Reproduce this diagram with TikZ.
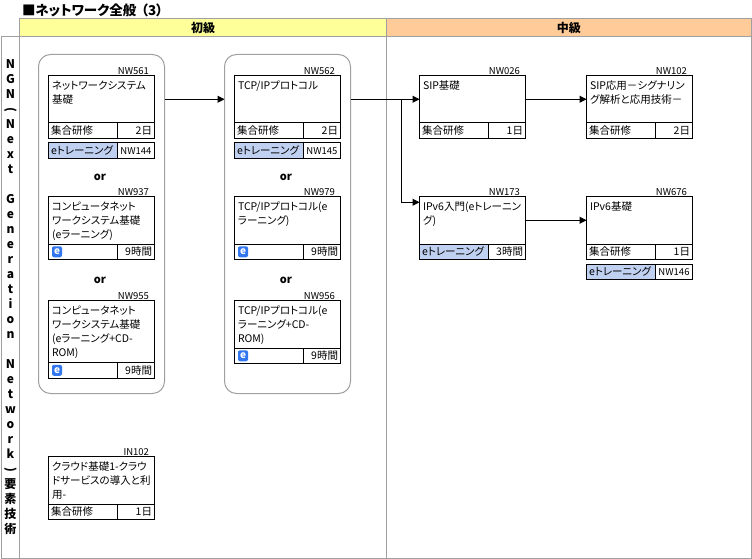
\documentclass[tikz,border=0pt]{standalone}
\usepackage{fontspec}
\setmainfont{Noto Sans CJK JP}[CharacterWidth=AlternateProportional]
\usepackage{xcolor}
\usetikzlibrary{arrows.meta, positioning}
\definecolor{gridgray}{RGB}{160,160,160}
\definecolor{beginnercolor}{RGB}{255,255,153}
\definecolor{middlecolor}{RGB}{255,204,153}
\definecolor{etraincolor}{RGB}{192,208,240}
\definecolor{eiconcolor}{RGB}{51,119,238}

\begin{document}
\begin{tikzpicture}[
    x=1pt, y=-1pt,
    every node/.style={outer sep=0pt},
    cell/.style={draw=gridgray, line width=1pt, anchor=north west, inner sep=0pt, font=\fontsize{12}{15}\selectfont\bfseries, align=center},
    crsgroup/.style={draw=gridgray, line width=1pt, rounded corners=12pt, anchor=north west, minimum width=126pt, minimum height=339pt},
    crsbox/.style={draw, line width=1pt, fill=white, anchor=north west, inner xsep=3.5pt, inner ysep=2pt, text width=99pt, text height=12pt, text depth=31.5pt, align=left, font=\fontsize{10.5}{14}\selectfont},
    crsfoot/.style={draw, line width=1pt, fill=white, anchor=north west, inner xsep=2.5pt, inner ysep=0pt, text width=64pt, text height=11.5pt, text depth=4pt, align=left, font=\fontsize{10.5}{14}\selectfont},
    crstime/.style={crsfoot, anchor=north east, text width=32pt, align=right},
    crscode/.style={anchor=south east, inner sep=0pt, text depth=0pt, xshift=-5.5pt, yshift=1pt, font=\fontsize{9.5}{10}\selectfont},
    etrain/.style={crsfoot, fill=etraincolor},
    etcode/.style={crsfoot, anchor=west, inner xsep=0.5pt, text width=36pt, align=center, font=\fontsize{9.5}{10}\selectfont},
    eicon/.style={fill=eiconcolor, text=white, rounded corners=2pt, anchor=west, inner sep=0pt, xshift=3.5pt, minimum width=10pt, minimum height=11pt, font=\fontsize{10}{10}\selectfont\bfseries},
    orword/.style={inner sep=0pt, font=\fontsize{11}{12}\selectfont\bfseries},
    flow/.style={-{Triangle[length=7pt, width=7pt]}, line width=1pt}
]
    \useasboundingbox (0,0) rectangle (752,559);

    % Title
    \node[anchor=west, inner sep=0pt, font=\fontsize{13.5}{14}\selectfont\bfseries] (pagetitle) at (22,10) {■ネットワーク全般\hspace{5pt}（3）};

    % Table cells
    \node[cell, fill=beginnercolor, minimum width=367pt, minimum height=18pt] (headbasic) at (19.5,18.5) {初級};
    \node[cell, fill=middlecolor, minimum width=364.5pt, minimum height=18pt] (headmiddle) at (386.5,18.5) {中級};
    \node[cell, minimum width=18pt, minimum height=521.5pt] (ngncell) at (1.5,36.5) {N\\G\\N\\\rotatebox[origin=c]{-90}{(}\\N\\e\\x\\t\\~\\G\\e\\n\\e\\r\\a\\t\\i\\o\\n\\~\\N\\e\\t\\w\\o\\r\\k\\\rotatebox[origin=c]{-90}{)}\\要\\素\\技\\術};
    \node[cell, minimum width=367pt, minimum height=521.5pt] (bodybasic) at (19.5,36.5) {};
    \node[cell, minimum width=364.5pt, minimum height=521.5pt] (bodymiddle) at (386.5,36.5) {};

    % Alternative groups
    \node[crsgroup] (groupnet) at (38.5,54.5) {};
    \node[crsgroup] (grouptcp) at (224.5,54.5) {};

    % Network system courses
    \node[crsbox] (nw561) at (48.5,75.5) {ネットワークシステム\\基礎};
    \node[crscode] (code561) at (nw561.north east) {NW561};
    \node[crsfoot] (foot561) at (nw561.south west) {集合研修};
    \node[crstime] (time561) at (nw561.south east) {2日};
    \node[etrain] (et561) at ([yshift=-4.5pt]foot561.south west) {eトレーニング};
    \node[etcode] (etc561) at (et561.east) {NW144};
    \node[orword] (ornet1) at (100,177) {or};

    \node[crsbox] (nw937) at (48.5,196.5) {コンピュータネット\\ワークシステム基礎\\(eラーニング)};
    \node[crscode] (code937) at (nw937.north east) {NW937};
    \node[crsfoot] (foot937) at (nw937.south west) {};
    \node[eicon] (icon937) at (foot937.west) {e};
    \node[crstime] (time937) at (nw937.south east) {9時間};
    \node[orword] (ornet2) at (100,280) {or};

    \node[crsbox, text depth=46pt] (nw955) at (48.5,300.5) {コンピュータネット\\ワークシステム基礎\\(eラーニング+CD-\\ROM)};
    \node[crscode] (code955) at (nw955.north east) {NW955};
    \node[crsfoot] (foot955) at (nw955.south west) {};
    \node[eicon] (icon955) at (foot955.west) {e};
    \node[crstime] (time955) at (nw955.south east) {9時間};

    % TCP/IP courses
    \node[crsbox] (nw562) at (234.5,75.5) {TCP/IPプロトコル};
    \node[crscode] (code562) at (nw562.north east) {NW562};
    \node[crsfoot] (foot562) at (nw562.south west) {集合研修};
    \node[crstime] (time562) at (nw562.south east) {2日};
    \node[etrain] (et562) at ([yshift=-4.5pt]foot562.south west) {eトレーニング};
    \node[etcode] (etc562) at (et562.east) {NW145};
    \node[orword] (ortcp1) at (286,177) {or};

    \node[crsbox] (nw979) at (234.5,196.5) {TCP/IPプロトコル(e\\ラーニング)};
    \node[crscode] (code979) at (nw979.north east) {NW979};
    \node[crsfoot] (foot979) at (nw979.south west) {};
    \node[eicon] (icon979) at (foot979.west) {e};
    \node[crstime] (time979) at (nw979.south east) {9時間};
    \node[orword] (ortcp2) at (286,280) {or};

    \node[crsbox] (nw956) at (234.5,300.5) {TCP/IPプロトコル(e\\ラーニング+CD-\\ROM)};
    \node[crscode] (code956) at (nw956.north east) {NW956};
    \node[crsfoot] (foot956) at (nw956.south west) {};
    \node[eicon] (icon956) at (foot956.west) {e};
    \node[crstime] (time956) at (nw956.south east) {9時間};

    % Cloud course
    \node[crsbox] (in102) at (48.5,456.5) {\mbox{クラウド基礎1-クラウ}\\ドサービスの導入と利\\用-};
    \node[crscode] (code102i) at (in102.north east) {IN102};
    \node[crsfoot] (footin102) at (in102.south west) {集合研修};
    \node[crstime] (timein102) at (in102.south east) {1日};

    % Middle level courses
    \node[crsbox] (nw026) at (419.5,75.5) {SIP基礎};
    \node[crscode] (code026) at (nw026.north east) {NW026};
    \node[crsfoot] (foot026) at (nw026.south west) {集合研修};
    \node[crstime] (time026) at (nw026.south east) {1日};

    \node[crsbox] (nw102) at (586.5,75.5) {SIP応用－シグナリン\\グ解析と応用技術－};
    \node[crscode] (code102) at (nw102.north east) {NW102};
    \node[crsfoot] (foot102) at (nw102.south west) {集合研修};
    \node[crstime] (time102) at (nw102.south east) {2日};

    \node[crsbox] (nw173) at (419.5,196.5) {IPv6入門(eトレーニン\\グ)};
    \node[crscode] (code173) at (nw173.north east) {NW173};
    \node[etrain] (et173) at (nw173.south west) {eトレーニング};
    \node[crstime] (time173) at (nw173.south east) {3時間};

    \node[crsbox] (nw676) at (586.5,196.5) {IPv6基礎};
    \node[crscode] (code676) at (nw676.north east) {NW676};
    \node[crsfoot] (foot676) at (nw676.south west) {集合研修};
    \node[crstime] (time676) at (nw676.south east) {1日};
    \node[etrain] (et676) at ([yshift=-4.5pt]foot676.south west) {eトレーニング};
    \node[etcode] (etc676) at (et676.east) {NW146};

    % Connectors
    \coordinate (split) at (401,99.25);
    \draw[flow] (nw561 -| groupnet.east) -- (nw562 -| grouptcp.west);
    \draw[flow] (nw562 -| grouptcp.east) -- (nw026.west);
    \draw[flow] (split) |- ([yshift=18pt]nw173.west);
    \draw[flow] (nw026) -- (nw102);
    \draw[flow] (nw173) -- (nw676);
\end{tikzpicture}
\end{document}
